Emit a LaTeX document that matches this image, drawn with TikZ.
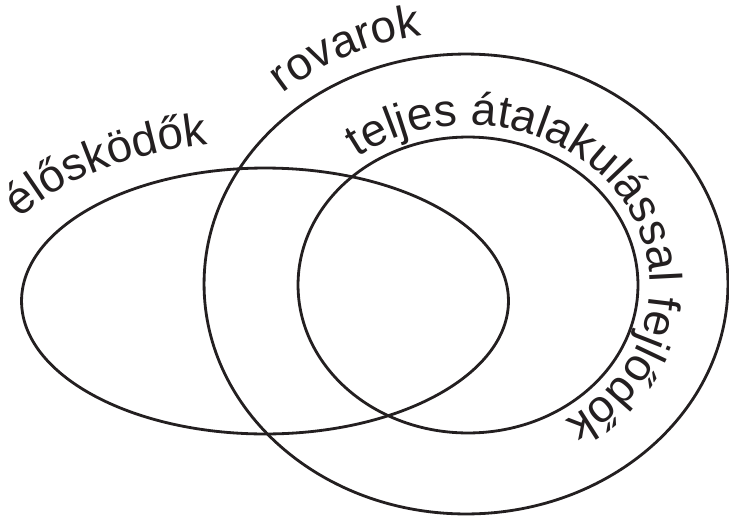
\documentclass[tikz,border=0pt]{standalone}
\usepackage{fontspec}
\setmainfont{Liberation Sans}
\usetikzlibrary{shapes.geometric,decorations.text}
\definecolor{vink}{RGB}{35,31,32}
\newcommand{\vfont}{\fontsize{26}{30}\selectfont}
\tikzset{
  vset/.style={ellipse,draw=vink,line width=1.6pt,inner sep=0pt},
  vlabel/.style={decorate,decoration={text along path,text align=left,
                 text format delimiters={|}{|},text color=vink,text={|\vfont|#1}}},
}

\begin{document}
\begin{tikzpicture}[x=0.02cm,y=0.02cm]
  \useasboundingbox (0,0) rectangle (729,515);
  \node[vset,minimum width=9.74cm,minimum height=5.32cm] (paraz) at (265,214) {};
  \node[vset,minimum width=10.48cm,minimum height=9.2cm] (rovar) at (466,231) {};
  \node[vset,minimum width=6.8cm,minimum height=5.92cm] (teljes) at (468,230) {};
  % labels run along the outlines
  \path[vlabel={élősködők}] (paraz.center) ++(149:286 and 160)
    arc[start angle=149,end angle=50,x radius=286,y radius=160];
  \path[vlabel={rovarok}] (rovar.center) ++(130.8:280 and 252)
    arc[start angle=130.8,end angle=40,x radius=280,y radius=252];
  \path[vlabel={teljes átalakulással fejlődők}] (teljes.center) ++(127.3:182 and 160)
    arc[start angle=127.3,end angle=-100,x radius=182,y radius=160];
\end{tikzpicture}
\end{document}
